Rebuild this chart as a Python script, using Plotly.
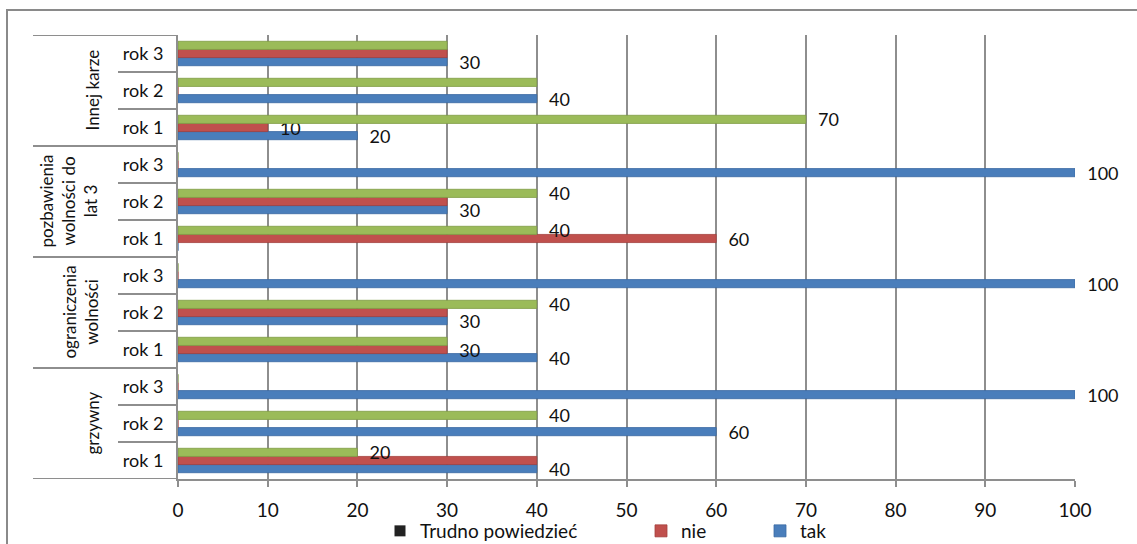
import plotly.graph_objects as go

# Survey answers (%) per type of penalty and year
groups = ["grzywny", "ograniczenia<br>wolności", "pozbawienia<br>wolności do<br>lat 3", "Innej karze"]
years = ["rok 1", "rok 2", "rok 3"]

tak = [40, 60, 100, 40, 30, 100, 0, 30, 100, 20, 40, 30]
nie = [40, 0, 0, 30, 30, 0, 60, 30, 0, 10, 0, 30]
trudno = [20, 40, 0, 30, 40, 0, 40, 40, 0, 70, 40, 30]

x_ticks = [0, 10, 20, 30, 40, 50, 60, 70, 80, 90, 100]

BLUE = "#4a7ebb"
RED = "#c0504d"
GREEN = "#9bbb59"
GRID = "#8e8e8e"
FONT = "Lato"

W, H = 1137, 544
ML, MR, MT, MB = 178, 62, 35, 65
PW, PH = W - ML - MR, H - MT - MB

n_rows = len(groups) * len(years)
y_pos = list(range(n_rows))
y_text = years * len(groups)


def px_x(px):
    """Horizontal pixel -> paper coordinate."""
    return (px - ML) / PW


def px_y(px):
    """Vertical pixel (from top) -> paper coordinate."""
    return (H - MB - px) / PH


def value_labels(series_list):
    """A value is printed unless an earlier series in the same row already shows it."""
    out = []
    for k, vals in enumerate(series_list):
        labels = []
        for i, v in enumerate(vals):
            earlier = [s[i] for s in series_list[:k]]
            labels.append("" if v == 0 or v in earlier else f"  {v}")
        out.append(labels)
    return out


lab_tak, lab_nie, lab_tr = value_labels([tak, nie, trudno])

label_font = dict(family=FONT, size=18, color="#111")

fig = go.Figure()
series = [
    ("tak", tak, lab_tak, BLUE, "#3a6aa3", "legend3", True),
    ("nie", nie, lab_nie, RED, "#a33f3c", "legend2", True),
    ("Trudno powiedzieć", trudno, lab_tr, GREEN, "#7f9c45", "legend", False),
]
for name, vals, labels, color, edge, leg, show in series:
    fig.add_trace(go.Bar(
        x=vals, y=y_pos, orientation="h", name=name,
        marker=dict(color=color, line=dict(color=edge, width=0.8)),
        text=labels, textposition="outside", cliponaxis=False,
        constraintext="none",
        textfont=label_font, outsidetextfont=label_font,
        legend=leg, showlegend=show,
    ))

# legend key for the third series, shown with a dark square
fig.add_trace(go.Scatter(
    x=[None], y=[None], mode="markers", name="Trudno powiedzieć",
    marker=dict(symbol="square", size=11, color="#222"), legend="legend",
))

shapes = []
# outer frame
shapes.append(dict(type="rect", xref="paper", yref="paper",
                   x0=px_x(7), x1=px_x(1160), y0=px_y(10), y1=px_y(600),
                   line=dict(color="#8a8a8a", width=2), layer="below"))
# group separators of the category table
n_y = len(years)
for g in range(len(groups) + 1):
    yb = g * n_y - 0.5
    shapes.append(dict(type="line", xref="paper", yref="y",
                       x0=px_x(33), x1=0, y0=yb, y1=yb,
                       line=dict(color=GRID, width=2)))
# row separators inside each group
for g in range(len(groups)):
    for r in range(1, n_y):
        yb = g * n_y + r - 0.5
        shapes.append(dict(type="line", xref="paper", yref="y",
                           x0=px_x(118), x1=0, y0=yb, y1=yb,
                           line=dict(color=GRID, width=2)))

# group names, rotated
group_x = [92, 80, 68, 92]
annotations = []
for g, name in enumerate(groups):
    annotations.append(dict(
        text=name, xref="paper", yref="y", x=px_x(group_x[g]), y=g * n_y + 1,
        textangle=-90, showarrow=False, xanchor="center", yanchor="middle",
        font=dict(family=FONT, size=17, color="#111"),
    ))

leg_common = dict(orientation="h", xanchor="left", yanchor="middle",
                  y=px_y(531), font=dict(family=FONT, size=19, color="#111"),
                  bgcolor="rgba(0,0,0,0)", itemwidth=30)

fig.update_layout(
    width=W, height=H,
    margin=dict(l=ML, r=MR, t=MT, b=MB, autoexpand=False),
    paper_bgcolor="white", plot_bgcolor="white",
    barmode="group", bargap=0.34, bargroupgap=0,
    font=dict(family=FONT, size=17, color="#111"),
    xaxis=dict(range=[0, 100], tickvals=x_ticks, showgrid=True,
               gridcolor=GRID, gridwidth=2, zeroline=False,
               showline=True, linecolor=GRID, linewidth=2,
               ticks="outside", ticklen=6, tickcolor=GRID, tickwidth=2,
               ticklabelstandoff=7, automargin=False,
               tickfont=dict(family=FONT, size=19, color="#111")),
    yaxis=dict(range=[-0.5, n_rows - 0.5], tickvals=y_pos, ticktext=y_text,
               showgrid=False, zeroline=False, showline=True,
               linecolor=GRID, linewidth=2, ticks="", ticklabelstandoff=9,
               automargin=False,
               tickfont=dict(family=FONT, size=18, color="#111")),
    shapes=shapes,
    annotations=annotations,
    legend=dict(x=px_x(380), **leg_common),
    legend2=dict(x=px_x(641), **leg_common),
    legend3=dict(x=px_x(760), **leg_common),
)

fig.write_html("out.html")
